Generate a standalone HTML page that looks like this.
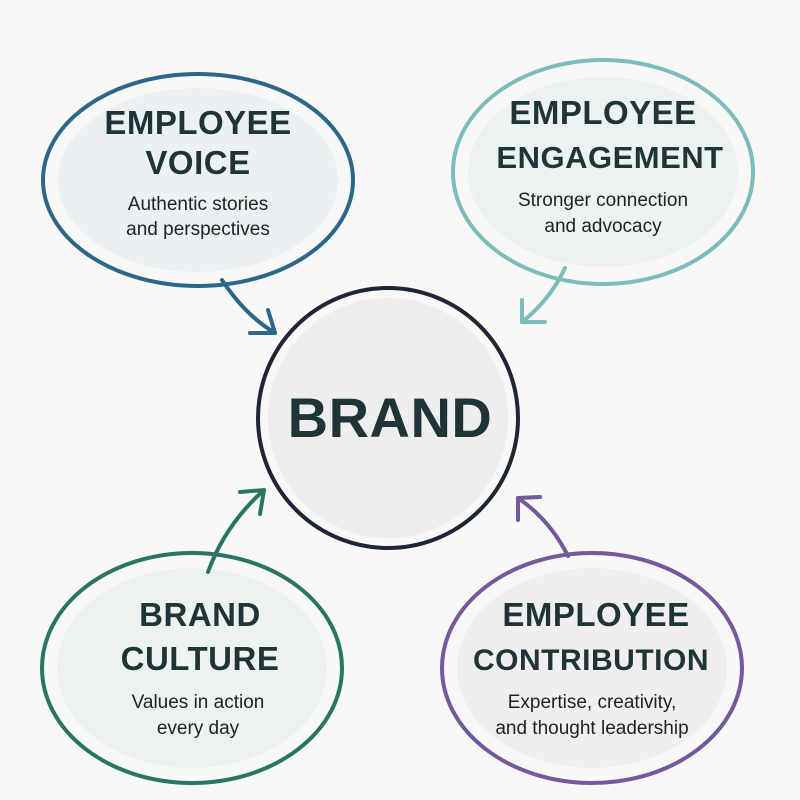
<!DOCTYPE html>
<html><head><meta charset="utf-8"><style>
html,body{margin:0;padding:0;background:#f8f8f6;}
svg{display:block}
.t{font-family:"Liberation Sans",sans-serif;font-weight:bold;fill:#1f3436;text-anchor:middle;letter-spacing:0.5px}
.s{font-family:"Liberation Sans",sans-serif;fill:#222;text-anchor:middle;font-size:19px}
</style></head><body>
<svg width="800" height="800" viewBox="0 0 800 800">
<!-- fills -->
<ellipse cx="198" cy="180" rx="140" ry="92" fill="#dbe9ee" opacity="0.45"/>
<ellipse cx="603" cy="172" rx="135" ry="95" fill="#dcecec" opacity="0.45"/>
<circle cx="388" cy="418" r="120" fill="#e6e6ec" opacity="0.55"/>
<ellipse cx="192" cy="668" rx="135" ry="100" fill="#dcebe6" opacity="0.45"/>
<ellipse cx="592" cy="668" rx="135" ry="100" fill="#e6e2ec" opacity="0.45"/>
<!-- outlines -->
<ellipse cx="198" cy="180" rx="155" ry="106" fill="none" stroke="#2c6688" stroke-width="4"/>
<ellipse cx="603" cy="172" rx="150" ry="112" fill="none" stroke="#7cbcbc" stroke-width="4"/>
<circle cx="388" cy="418" r="130" fill="none" stroke="#1e2636" stroke-width="4"/>
<ellipse cx="192" cy="668" rx="150" ry="115" fill="none" stroke="#2a7466" stroke-width="4"/>
<ellipse cx="592" cy="668" rx="150" ry="115" fill="none" stroke="#74589a" stroke-width="4"/>
<!-- arrows -->
<g fill="none" stroke-width="4" stroke-linecap="round" stroke-linejoin="round">
<path d="M222 280 Q245 315 275 333" stroke="#2c6688"/>
<path d="M250 333 L275 333 L268 310" stroke="#2c6688"/>
<path d="M565 268 Q550 300 522 322" stroke="#7cbcbc"/>
<path d="M522 300 L522 322 L545 322" stroke="#7cbcbc"/>
<path d="M208 572 Q225 525 264 490" stroke="#2a7466"/>
<path d="M240 492 L264 490 L260 514" stroke="#2a7466"/>
<path d="M568 556 Q550 520 518 498" stroke="#74589a"/>
<path d="M518 520 L518 498 L540 497" stroke="#74589a"/>
</g>
<!-- text -->
<text class="t" x="198" y="134" font-size="33">EMPLOYEE</text>
<text class="t" x="198" y="174" font-size="33">VOICE</text>
<text class="s" x="198" y="210">Authentic stories</text>
<text class="s" x="198" y="235">and perspectives</text>
<text class="t" x="603" y="124" font-size="33">EMPLOYEE</text>
<text class="t" x="610" y="168" font-size="31">ENGAGEMENT</text>
<text class="s" x="603" y="206">Stronger connection</text>
<text class="s" x="603" y="232">and advocacy</text>
<text class="t" x="390" y="437" font-size="56" fill="#1e2636">BRAND</text>
<text class="t" x="200" y="626" font-size="33">BRAND</text>
<text class="t" x="200" y="670" font-size="33">CULTURE</text>
<text class="s" x="198" y="708">Values in action</text>
<text class="s" x="198" y="734">every day</text>
<text class="t" x="596" y="626" font-size="33">EMPLOYEE</text>
<text class="t" x="591" y="670" font-size="30">CONTRIBUTION</text>
<text class="s" x="592" y="708">Expertise, creativity,</text>
<text class="s" x="592" y="734">and thought leadership</text>
</svg>
</body></html>
